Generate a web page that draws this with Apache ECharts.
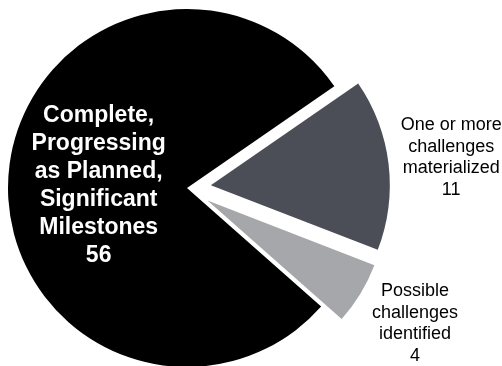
<!DOCTYPE html>
<html>
<head>
<meta charset="utf-8">
<script src="https://cdn.jsdelivr.net/npm/echarts@6/dist/echarts.min.js"></script>
<style>
  html, body { margin: 0; padding: 0; background: #fff; }
  #chart { width: 502px; height: 366px; }
</style>
</head>
<body>
<div id="chart"></div>
<script>
// slice order: clockwise from the upper edge of the dark slice
const categories = [
  'One or more\nchallenges\nmaterialized',
  'Possible\nchallenges\nidentified',
  'Complete,\nProgressing\nas Planned,\nSignificant\nMilestones'
];
const values = [11, 4, 56];
const exploded = [true, true, false];
const colors = ['#4b4e56', '#a6a7aa', '#000000'];

const chart = echarts.init(document.getElementById('chart'));

const data = categories.map((name, i) => {
  const item = {
    name: name,
    value: values[i],
    selected: exploded[i],
    itemStyle: { color: colors[i], borderWidth: 0 },
    select: { itemStyle: { color: colors[i], borderWidth: 0 } }
  };
  if (i === 2) {
    item.label = {
      position: 'inside',
      color: '#fff',
      fontWeight: 'bold',
      fontSize: 23,
      lineHeight: 28,
      offset: [4, 3]
    };
  }
  return item;
});

const option = {
  animation: false,
  series: [
    {
      type: 'pie',
      center: [187, 188],
      radius: 179,
      startAngle: 34.6,
      clockwise: true,
      selectedMode: 'multiple',
      selectedOffset: 24,
      avoidLabelOverlap: false,
      emphasis: { disabled: true },
      label: {
        show: true,
        position: 'outside',
        formatter: '{b}\n{c}',
        fontFamily: 'Liberation Sans, Arial, sans-serif',
        fontSize: 18,
        lineHeight: 21.5,
        color: '#000',
        align: 'center'
      },
      labelLine: {
        show: true,
        length: 58,
        length2: 0,
        lineStyle: { opacity: 0 }
      },
      labelLayout: function (params) {
        // centre the outer labels on the end of the (hidden) label line
        const pts = params.labelLinePoints;
        if (params.dataIndex === 2 || !pts) return {};
        return { x: pts[1][0] - 3, y: pts[1][1] + 1, align: 'center', verticalAlign: 'middle' };
      },
      data: data
    }
  ]
};

chart.setOption(option);
</script>
</body>
</html>
